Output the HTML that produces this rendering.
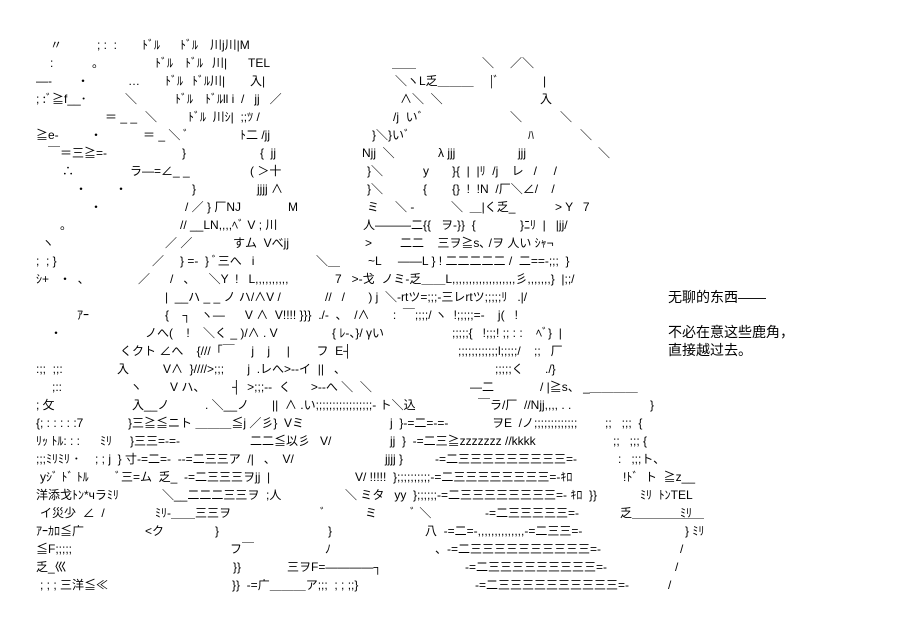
<!DOCTYPE html>
<html><head><meta charset="utf-8"><style>
body{margin:0;background:#fff;width:905px;height:622px;overflow:hidden;position:relative;font-family:"Liberation Sans","Noto Sans CJK JP",sans-serif;font-size:12px;color:#000}
span{position:absolute;white-space:pre;line-height:14px}
.c{font-size:14px;line-height:16px}
</style></head><body>
<div id="a"></div>
<span class="c" style="left:668px;top:289px">无聊的东西――</span>
<span class="c" style="left:668px;top:324px">不必在意这些鹿角，</span>
<span class="c" style="left:668px;top:342px">直接越过去。</span>
<script>
var R=[
[[50,"〃"],[97,"; :  :"],[142,"ﾄﾞﾙ"],[180,"ﾄﾞﾙ"],[210,"川j川|M"]],
[[50,":"],[92,"。"],[155,"ﾄﾞﾙ"],[185,"ﾄﾞﾙ"],[212,"川|"],[248,"TEL"],[392,"＿＿"],[482,"＼"],[510,"／＼"]],
[[36,"―-"],[77,"・"],[128,"…"],[165,"ﾄﾞﾙ"],[192,"ﾄﾞﾙ川|"],[250,"入|"],[395,"＼ヽL乏＿＿＿"],[490,"|ﾞ"],[543,"|"]],
[[36,"; :ﾞ≧f__･"],[125,"＼"],[175,"ﾄﾞﾙ"],[205,"ﾄﾞﾙll i  /   jj   ／"],[400,"∧＼  ＼"],[540,"入"]],
[[105,"＝ _ _"],[145,"＼"],[188,"ﾄﾞﾙ  川ｼ|  ;;ﾂ /"],[393,"/j  いﾞ"],[510,"＼"],[560,"＼"]],
[[36,"≧e-"],[90,"・"],[143,"＝ _ ＼ ﾞ"],[240,"ﾄ二 /jj"],[372,"}＼}いﾞ"],[528,"ﾊ"],[580,"＼"]],
[[48,"￣＝三≧=-"],[182,"}"],[260,"{  jj"],[362,"Njj  ＼"],[438,"λ jjj"],[518,"jjj"],[598,"＼"]],
[[62,"∴"],[130,"ラ―=∠_ _"],[250,"( ＞十"],[367,"}＼"],[423,"y"],[452,"}{  |  |ﾘ  /j    レ   /     /"]],
[[75,"・"],[115,"・"],[192,"}"],[257,"jjjj ∧"],[367,"}＼"],[423,"{"],[452,"{}  !  !N  /厂＼∠/    /"]],
[[90,"・"],[185,"/ ／ } 厂NJ"],[288,"M"],[367,"ミ"],[395,"＼ -"],[451,"＼  ＿|く乏_"],[555,"> Y   7"]],
[[60,"。"],[180,"// __LN,,,,ﾍﾞ V ; 川"],[363,"人―――二{{   ヲ-}}  {"],[520,"}ﾆﾘ  |   |jj/"]],
[[42,"ヽ"],[165,"／ ／"],[233,"すム  Vべjj"],[365,">"],[400,"二二    三ヲ≧s､ /ヲ 人い ｼｬ¬"]],
[[36,";  ; }"],[152,"／"],[180,"} =-  } ﾞ三へ   i"],[316,"＼＿"],[368,"~L     ――L } ! 二二二二二 /  二==-;;;  }"]],
[[36,"ｼ+   ・  、"],[138,"／"],[170,"/   、    ＼Y  !   L,,,,,,,,,,"],[335,"7   >-戈  ノミ-乏＿＿L,,,,,,,,,,,,,,,,,,,彡,,,,,,,}  |;;/"]],
[[165,"|  __ハ _ _ ノ ハ/∧V /"],[325,"//   /       ) j  ＼-rtツ=;;;-三レrtツ;;;;;ﾘ   .|/"]],
[[77,"ｱｰ"],[165,"{    ┐   ヽ―      V ∧  V!!!! }}}  ./-  、  /∧       :  ￣;;;;/ ヽ  !;;;;;=-    j(   !"]],
[[50,"・"],[145,"ノへ(    !    ＼く _ )/∧ . V"],[332,"{ ﾚ-、}/ γい"],[452,";;;;;{   !;;;! ;; : :    ﾍﾞ}  |"]],
[[120,"くクト ∠へ    {///「￣     j    j     |        フ  E┤"],[458,";;;;;;;;;;;;l;;;;;/    ;;   厂"]],
[[36,":;;  ;;:"],[117,"入"],[163,"V∧  }////>;;;       j  .レへ>--イ  ||   、"],[495,";;;;;く"],[545,"./}"]],
[[52,";::"],[130,"ヽ"],[170,"V ハ、"],[232,"┤  >;;;--  く      >--へ ＼  ＼"],[470,"―二"],[540,"/ |≧s、 _＿＿＿＿"]],
[[36,"; 攵"],[132,"入__ノ"],[205,". ＼__ノ"],[272,"||  ∧ .い;;;;;;;;;;;;;;;;;- ト＼込"],[478,"￣ラ/厂  //Njj,,,, . ."],[650,"}"]],
[[36,"{; : : : : :7"],[128,"}三≧≦ニト ＿＿＿≦j ／彡}  Vミ"],[390,"j  }-=二=-=-"],[492,"ヲE  /ノ;;;;;;;;;;;;;"],[605,";;   ;;;  {"]],
[[36,"ﾘｯ ﾄﾙ: : :"],[100,"ﾐﾘ"],[130,"}三三=-=-"],[250,"二二≦以彡   V/"],[390,"jj  }  -=二三≧zzzzzzz //kkkk"],[613,";;   ;;; {"]],
[[36,";;;ﾐﾘﾐﾘ ･"],[95,"; ; j  } 寸-=二=-  --=二三三ア  /|   、  V/"],[385,"jjjj }"],[435,"-=二三三三三三三三三三=-"],[618,":   ;;;ト、"]],
[[40,"yｼﾞ ﾄﾞ ﾄﾙ"],[115,"ﾞ三=ム  乏_  -=二三三三ヲjj  |"],[355,"V/ !!!!!  };;;;;;;;;;-=二三三三三三三三三=-ｷﾛ"],[623,"!ﾄﾞ  ト  ≧z__"]],
[[36,"洋添戈ﾄﾝ*чラﾐﾘ"],[162,"＼__二二二三三ヲ  ;人"],[345,"＼ ミタ   yy  };;;;;;-=二三三三三三三三三=- ｷﾛ  }}"],[640,"ﾐﾘ  ﾄﾝTEL"]],
[[40,"イ災少  ∠  /"],[155,"ﾐﾘ-＿＿三三ヲ"],[320,"ﾞ"],[365,"ミ"],[410,"ﾞ ＼"],[485,"-=二三三三三三=-"],[620,"乏＿＿＿＿＿＿"],[680,"ﾐﾘ"]],
[[36,"ｱｰｶﾛ≦广"],[145,"<ク"],[215,"}"],[328,"}"],[425,"八  -=二=-,,,,,,,,,,,,,,-=二三三=-"],[685,"} ﾐﾘ"]],
[[36,"≦F;;;;;"],[230,"フ￣"],[325,"ﾉ"],[435,"、-=二三三三三三三三三三三=-"],[680,"/"]],
[[36,"乏_巛"],[233,"}}"],[287,"三ヲF=――――┐"],[465,"-=二三三三三三三三三三=-"],[675,"/"]],
[[40,"; ; ; 三洋≦≪"],[232,"}}  -=广＿＿＿ア;;;  ; ; ;;}"],[475,"-=二三三三三三三三三三三=-"],[668,"/"]]
];
var h="";R.forEach(function(r,i){var y=38+i*18;r.forEach(function(s){h+='<span style="left:'+s[0]+'px;top:'+y+'px">'+s[1].replace(/&/g,"&amp;").replace(/</g,"&lt;")+'</span>';});});
document.getElementById("a").innerHTML=h;
</script>
</body></html>
